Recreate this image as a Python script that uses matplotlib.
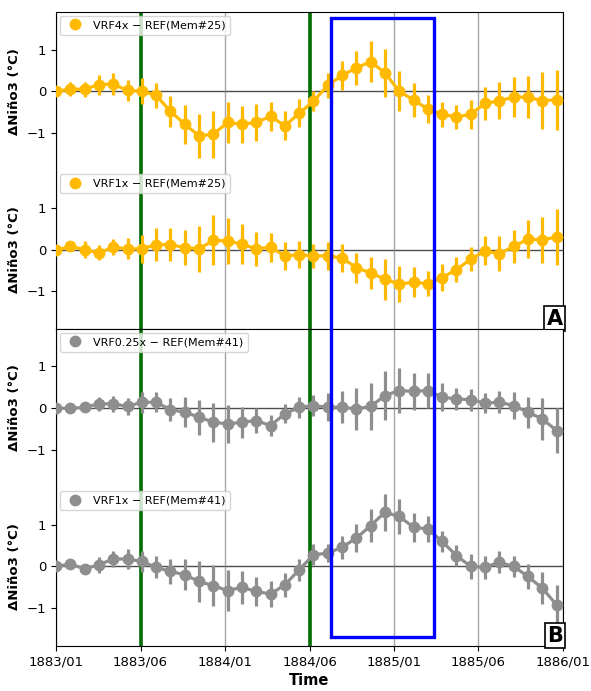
import numpy as np
import matplotlib
matplotlib.use("Agg")
import matplotlib.pyplot as plt
from matplotlib.patches import Rectangle
from matplotlib.lines import Line2D
import matplotlib.transforms as mtransforms

# etiquetas del eje x
tick_labels = ["1883/01", "1883/06", "1884/01", "1884/06", "1885/01", "1885/06", "1886/01"]
n_meses = 36

# VRF4x - REF (Mem#25)
vrf4x_25 = [0.0, 0.05, 0.05, 0.16, 0.17, 0.02, 0.0, -0.1, -0.48, -0.79, -1.07, -1.03,
            -0.75, -0.79, -0.75, -0.6, -0.83, -0.53, -0.24, 0.14, 0.38, 0.56, 0.71, 0.44,
            0.0, -0.21, -0.43, -0.55, -0.62, -0.55, -0.29, -0.23, -0.14, -0.14, -0.23, -0.2]
err4x_25 = [0.08, 0.16, 0.18, 0.24, 0.27, 0.26, 0.31, 0.3, 0.37, 0.47, 0.53, 0.56,
            0.5, 0.44, 0.45, 0.35, 0.35, 0.34, 0.24, 0.3, 0.34, 0.4, 0.49, 0.57,
            0.48, 0.41, 0.34, 0.3, 0.29, 0.35, 0.4, 0.44, 0.47, 0.51, 0.68, 0.72]

# VRF1x - REF (Mem#25)
vrf1x_25 = [-0.02, 0.08, 0.0, -0.08, 0.06, 0.02, 0.02, 0.12, 0.12, 0.05, 0.02, 0.22,
            0.21, 0.13, 0.02, 0.06, -0.15, -0.12, -0.15, -0.15, -0.2, -0.43, -0.56, -0.71,
            -0.83, -0.78, -0.82, -0.67, -0.48, -0.23, -0.03, -0.1, 0.08, 0.25, 0.24, 0.3]
err1x_25 = [0.05, 0.1, 0.2, 0.18, 0.2, 0.25, 0.33, 0.39, 0.4, 0.43, 0.55, 0.6,
            0.55, 0.48, 0.41, 0.35, 0.33, 0.33, 0.29, 0.33, 0.33, 0.36, 0.39, 0.49,
            0.43, 0.36, 0.3, 0.32, 0.3, 0.29, 0.35, 0.42, 0.39, 0.45, 0.55, 0.68]

# VRF0.25x - REF (Mem#41)
vrf025x_41 = [0.0, -0.01, 0.02, 0.1, 0.1, 0.04, 0.14, 0.14, -0.04, -0.1, -0.22, -0.34,
              -0.38, -0.34, -0.3, -0.42, -0.14, 0.02, 0.06, 0.02, 0.02, -0.02, 0.04, 0.3,
              0.42, 0.4, 0.42, 0.26, 0.22, 0.2, 0.12, 0.14, 0.06, -0.1, -0.26, -0.54]
err025x_41 = [0.03, 0.05, 0.08, 0.17, 0.19, 0.2, 0.25, 0.24, 0.28, 0.36, 0.42, 0.47,
              0.45, 0.37, 0.29, 0.26, 0.23, 0.25, 0.26, 0.34, 0.38, 0.5, 0.56, 0.58,
              0.55, 0.45, 0.41, 0.34, 0.26, 0.26, 0.25, 0.27, 0.32, 0.37, 0.51, 0.53]

# VRF1x - REF (Mem#41)
vrf1x_41 = [0.0, 0.06, -0.06, 0.04, 0.18, 0.18, 0.12, -0.02, -0.12, -0.2, -0.36, -0.46,
            -0.58, -0.5, -0.6, -0.66, -0.44, -0.08, 0.28, 0.32, 0.46, 0.68, 0.98, 1.3,
            1.2, 0.94, 0.9, 0.6, 0.26, 0.0, -0.02, 0.1, 0.0, -0.24, -0.52, -0.92]
err1x_41 = [0.03, 0.06, 0.07, 0.19, 0.19, 0.24, 0.26, 0.26, 0.31, 0.37, 0.49, 0.5,
            0.49, 0.39, 0.35, 0.32, 0.29, 0.26, 0.25, 0.22, 0.28, 0.34, 0.39, 0.45,
            0.43, 0.35, 0.31, 0.26, 0.25, 0.29, 0.28, 0.26, 0.25, 0.31, 0.39, 0.48]

series = [
    (vrf4x_25, err4x_25, "VRF4x \u2212 REF(Mem#25)", "#FFBA00"),
    (vrf1x_25, err1x_25, "VRF1x \u2212 REF(Mem#25)", "#FFBA00"),
    (vrf025x_41, err025x_41, "VRF0.25x \u2212 REF(Mem#41)", "#8E8E8E"),
    (vrf1x_41, err1x_41, "VRF1x \u2212 REF(Mem#41)", "#8E8E8E"),
]

x = np.arange(n_meses)
xmax = 35.45
xticks = np.linspace(0, xmax, len(tick_labels))

fig = plt.figure(figsize=(5.91, 6.91), dpi=100)
left, right, bottom, top = 0.0948, 0.9526, 0.0656, 0.9826
h = (top - bottom) / 4

axes = []
for k, (y, e, lab, col) in enumerate(series):
    ax = fig.add_axes([left, top - (k + 1) * h, right - left, h])
    axes.append(ax)
    ax.set_xlim(0, xmax)
    ax.set_ylim(-1.9, 1.9)
    ax.set_xticks(xticks)
    ax.set_yticks([-1, 0, 1])
    ax.grid(axis="x", color="gray", alpha=0.7, lw=1)
    ax.axhline(0, color="k", lw=1, alpha=0.7, zorder=1)
    for xv in (xticks[1], xticks[3]):
        ax.axvline(xv, color="#006e00", lw=2.6, zorder=2)
    ax.errorbar(x, y, yerr=e, color=col, marker="o", ms=7.5, lw=2.3,
                elinewidth=2.3, capsize=0, zorder=3)
    handle = Line2D([], [], ls="none", marker="o", ms=7.5, color=col)
    ax.legend([handle], [lab], loc="upper left", fontsize=8,
              borderaxespad=0.35, handletextpad=0.6, framealpha=0.8)
    ax.set_ylabel("\u0394Ni\u00f1o3 (\u00b0C)", fontsize=9.5, fontweight="bold")
    ax.tick_params(labelsize=9.5)
    if k < 3:
        ax.tick_params(axis="x", bottom=False, labelbottom=False)
    if k in (0, 2):
        ax.spines["bottom"].set_visible(False)
    if k in (1, 3):
        ax.spines["top"].set_visible(False)
        ax.text(1.0, 0.0, "A" if k == 1 else "B", transform=ax.transAxes,
                ha="right", va="bottom", fontsize=15, fontweight="bold",
                bbox=dict(boxstyle="square,pad=0.12", fc="white", ec="k", lw=1.2),
                zorder=5)

axes[-1].set_xticklabels(tick_labels)
axes[-1].set_xlabel("Time", fontsize=10.5, fontweight="bold", labelpad=3)

# recuadro azul que cruza todos los paneles
trans = mtransforms.blended_transform_factory(axes[0].transData, fig.transFigure)
rect = Rectangle((19.2, 0.0786), 26.45 - 19.2, 0.9735 - 0.0786, transform=trans,
                 fill=False, ec="blue", lw=2.4, zorder=10)
fig.patches.append(rect)

fig.savefig("out.png", dpi=100)
